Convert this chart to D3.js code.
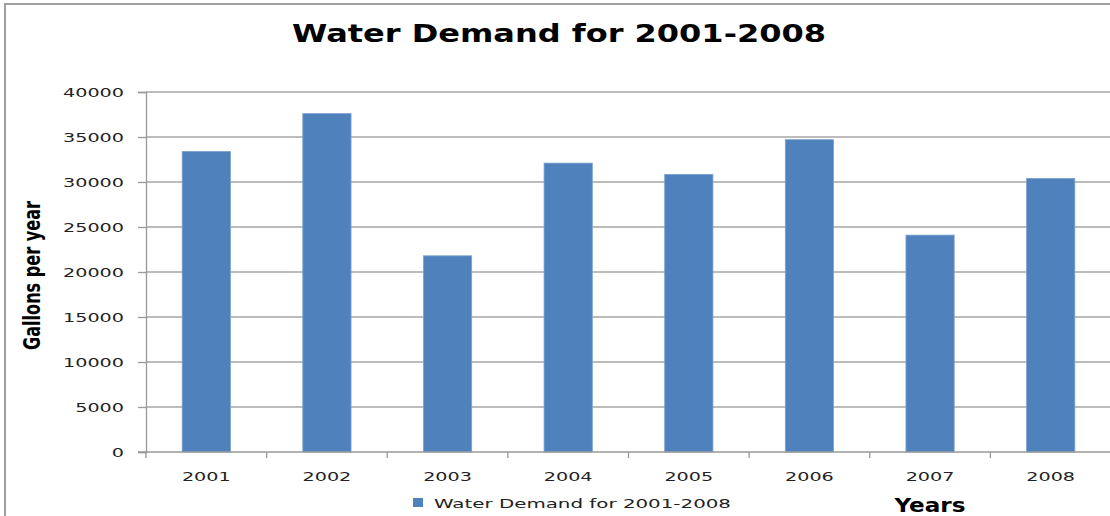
<!DOCTYPE html>
<html>
<head>
<meta charset="utf-8">
<script src="https://cdn.jsdelivr.net/npm/d3@7"></script>
<style>
  html, body { margin: 0; padding: 0; background: #fff; }
  svg { display: block; }
</style>
</head>
<body>
<svg id="chart" width="1110" height="516"></svg>
<script>
// Annual water demand, gallons per year
const years = ["2001", "2002", "2003", "2004", "2005", "2006", "2007", "2008"];
const demand = [33400, 37600, 21800, 32100, 30850, 34700, 24100, 30400];
const yTicks = [0, 5000, 10000, 15000, 20000, 25000, 30000, 35000, 40000];
const titleText = "Water Demand for 2001-2008";
const seriesName = "Water Demand for 2001-2008";
const yTitle = "Gallons per year";
const xTitle = "Years";

const svg = d3.select("#chart");
const font = "'DejaVu Sans', Verdana, sans-serif";
const charW = 12.2; // wide set for axis numerals

// Outer frame
svg.append("rect")
  .attr("x", 5).attr("y", 4)
  .attr("width", 1130).attr("height", 540)
  .attr("fill", "#fff")
  .attr("stroke", "#a0a0a0").attr("stroke-width", 2);

const x = d3.scaleBand().domain(years).range([146, 1111])
  .paddingInner(0.6).paddingOuter(0.3);
const y = d3.scaleLinear().domain([0, 40000]).range([452, 92]);

// Horizontal gridlines
svg.append("g")
  .selectAll("line")
  .data(yTicks.slice(1))
  .join("line")
  .attr("x1", 146).attr("x2", 1111)
  .attr("y1", d => y(d)).attr("y2", d => y(d))
  .attr("stroke", "#a6a6a6").attr("stroke-width", 1.3);

// Bars
svg.append("g")
  .selectAll("rect")
  .data(years.map((yr, i) => ({ yr, v: demand[i] })))
  .join("rect")
  .attr("x", d => x(d.yr))
  .attr("y", d => y(d.v))
  .attr("width", x.bandwidth())
  .attr("height", d => y(0) - y(d.v))
  .attr("fill", "#4f81bd")
  .attr("stroke", "#7ea2cf").attr("stroke-width", 0.8);

// Y axis
const yAxis = svg.append("g")
  .attr("transform", "translate(146,0)")
  .call(d3.axisLeft(y).tickValues(yTicks).tickSize(8).tickPadding(14).tickFormat(d3.format("d")));
yAxis.select(".domain").attr("stroke", "#999").attr("stroke-width", 1.3);
yAxis.selectAll(".tick line").attr("stroke", "#999").attr("stroke-width", 1.3);
yAxis.selectAll(".tick text")
  .attr("font-family", font).attr("font-size", 13).attr("fill", "#222")
  .attr("textLength", d => String(d).length * charW)
  .attr("lengthAdjust", "spacingAndGlyphs");

// X axis: baseline with category boundary ticks
const xAxisG = svg.append("g");
xAxisG.append("line")
  .attr("x1", 138).attr("x2", 1111)
  .attr("y1", y(0)).attr("y2", y(0))
  .attr("stroke", "#999").attr("stroke-width", 1.3);
xAxisG.selectAll("line.bound")
  .data(years)
  .join("line")
  .attr("class", "bound")
  .attr("x1", d => x(d) - x.step() * x.paddingInner() / 2)
  .attr("x2", d => x(d) - x.step() * x.paddingInner() / 2)
  .attr("y1", y(0)).attr("y2", y(0) + 6)
  .attr("stroke", "#999").attr("stroke-width", 1.3);
xAxisG.selectAll("text")
  .data(years)
  .join("text")
  .attr("x", d => x(d) + x.bandwidth() / 2)
  .attr("y", 481)
  .attr("text-anchor", "middle")
  .attr("font-family", font).attr("font-size", 13).attr("fill", "#222")
  .attr("textLength", d => d.length * charW)
  .attr("lengthAdjust", "spacingAndGlyphs")
  .text(d => d);

// Title
svg.append("text")
  .attr("x", 559).attr("y", 42)
  .attr("text-anchor", "middle")
  .attr("font-family", font).attr("font-weight", "bold").attr("font-size", 25)
  .attr("fill", "#000")
  .attr("textLength", 534).attr("lengthAdjust", "spacingAndGlyphs")
  .text(titleText);

// Y axis title
svg.append("text")
  .attr("transform", "translate(40,275.5) rotate(-90)")
  .attr("text-anchor", "middle")
  .attr("font-family", "'Liberation Sans Narrow', 'DejaVu Sans Condensed', sans-serif")
  .attr("font-weight", "bold").attr("font-size", 23).attr("fill", "#000")
  .attr("textLength", 149).attr("lengthAdjust", "spacingAndGlyphs")
  .text(yTitle);

// X axis title
svg.append("text")
  .attr("x", 930).attr("y", 512)
  .attr("text-anchor", "middle")
  .attr("font-family", font).attr("font-weight", "bold").attr("font-size", 19)
  .attr("fill", "#000")
  .attr("textLength", 71).attr("lengthAdjust", "spacingAndGlyphs")
  .text(xTitle);

// Legend
const legend = svg.append("g");
legend.append("rect")
  .attr("x", 413).attr("y", 498).attr("width", 10).attr("height", 9)
  .attr("fill", "#4f81bd");
legend.append("text")
  .attr("x", 434).attr("y", 507.5)
  .attr("font-family", font).attr("font-size", 13).attr("fill", "#222")
  .attr("textLength", 297).attr("lengthAdjust", "spacingAndGlyphs")
  .text(seriesName);
</script>
</body>
</html>
